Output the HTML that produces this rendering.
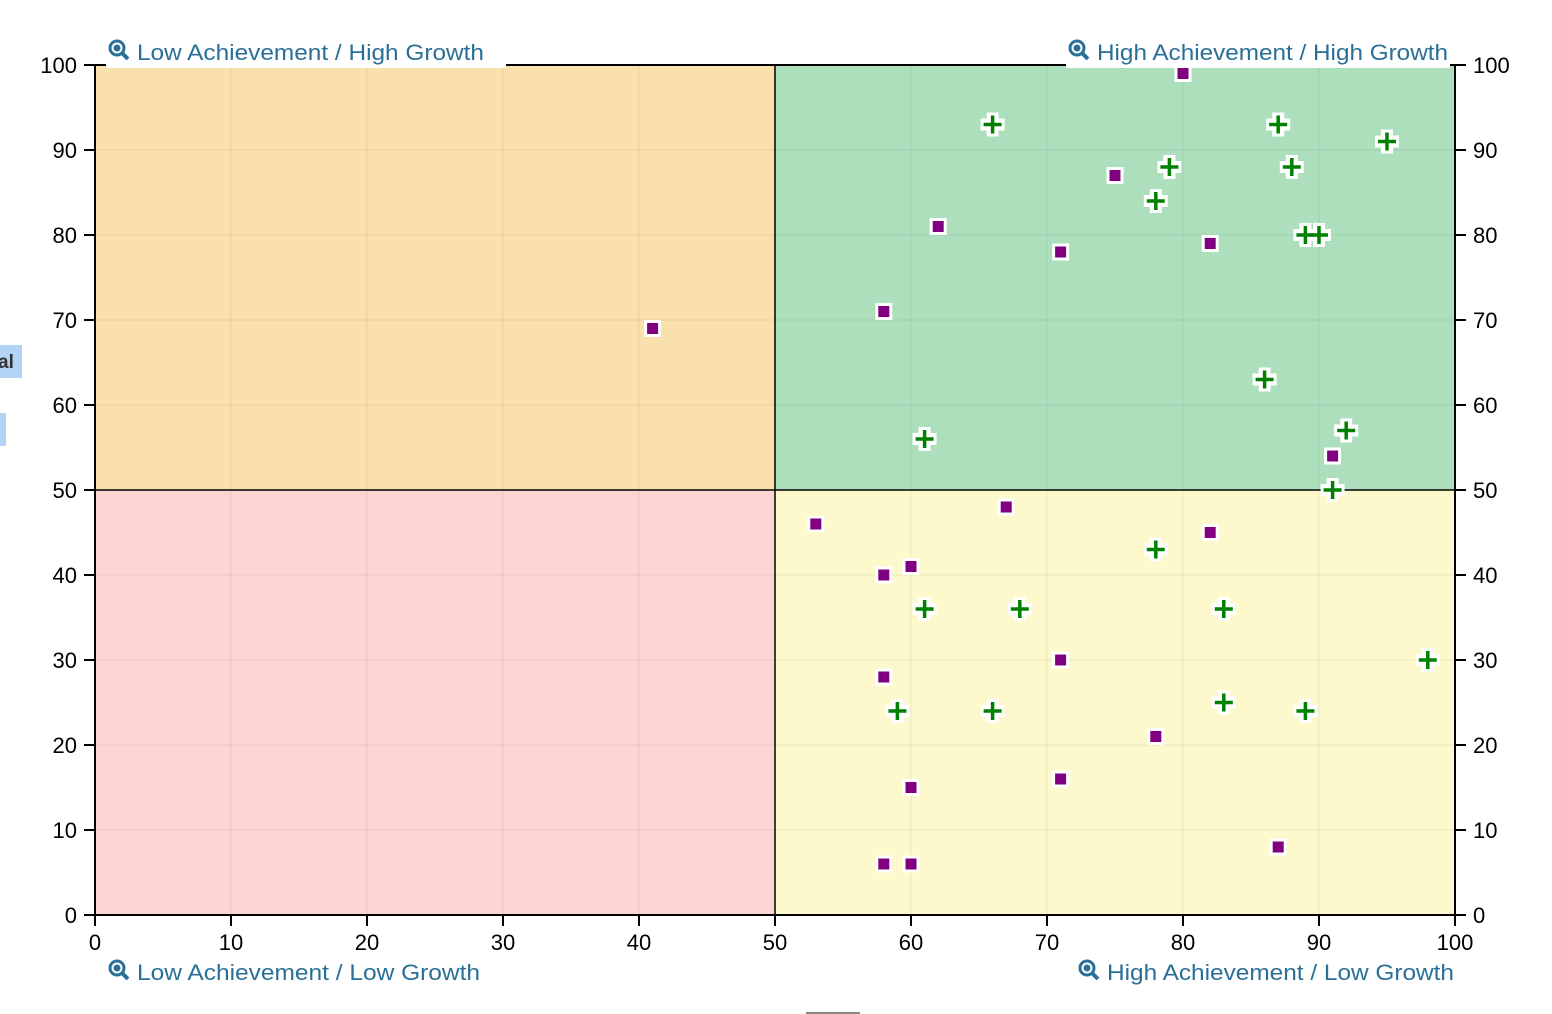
<!DOCTYPE html>
<html><head><meta charset="utf-8"><style>
html,body{margin:0;padding:0;background:#fff;width:1552px;height:1014px;overflow:hidden}
svg{display:block;font-family:"Liberation Sans",Arial,sans-serif}
</style></head><body>
<svg id="s" width="1552" height="1014" viewBox="0 0 1552 1014" xmlns="http://www.w3.org/2000/svg">
<rect x="95" y="65" width="680" height="425" fill="#fae0ac"/>
<rect x="775" y="65" width="680" height="425" fill="#addfbd"/>
<rect x="95" y="490" width="680" height="425" fill="#fdd5d5"/>
<rect x="775" y="490" width="680" height="425" fill="#fef9cc"/>
<g id="grid" stroke="#000" stroke-opacity="0.035" stroke-width="2"></g>
<line x1="775" y1="65" x2="775" y2="915" stroke="#000" stroke-width="1.5"/>
<line x1="95" y1="490" x2="1455" y2="490" stroke="#000" stroke-width="1.5"/>
<g stroke="#000" stroke-width="2" fill="none">
<line x1="95" y1="64" x2="95" y2="916"/>
<line x1="1455" y1="64" x2="1455" y2="916"/>
<line x1="84" y1="65" x2="1466" y2="65"/>
<line x1="84" y1="915" x2="1466" y2="915"/>
</g>
<g id="ticks" stroke="#000" stroke-width="2"></g>
<g font-size="22" fill="#000">
<text x="77" y="73" text-anchor="end">100</text><text x="77" y="158" text-anchor="end">90</text><text x="77" y="243" text-anchor="end">80</text><text x="77" y="328" text-anchor="end">70</text><text x="77" y="413" text-anchor="end">60</text><text x="77" y="498" text-anchor="end">50</text><text x="77" y="583" text-anchor="end">40</text><text x="77" y="668" text-anchor="end">30</text><text x="77" y="753" text-anchor="end">20</text><text x="77" y="838" text-anchor="end">10</text><text x="77" y="923" text-anchor="end">0</text>
<text x="1473" y="73">100</text><text x="1473" y="158">90</text><text x="1473" y="243">80</text><text x="1473" y="328">70</text><text x="1473" y="413">60</text><text x="1473" y="498">50</text><text x="1473" y="583">40</text><text x="1473" y="668">30</text><text x="1473" y="753">20</text><text x="1473" y="838">10</text><text x="1473" y="923">0</text>
<text x="95" y="950" text-anchor="middle">0</text><text x="231" y="950" text-anchor="middle">10</text><text x="367" y="950" text-anchor="middle">20</text><text x="503" y="950" text-anchor="middle">30</text><text x="639" y="950" text-anchor="middle">40</text><text x="775" y="950" text-anchor="middle">50</text><text x="911" y="950" text-anchor="middle">60</text><text x="1047" y="950" text-anchor="middle">70</text><text x="1183" y="950" text-anchor="middle">80</text><text x="1319" y="950" text-anchor="middle">90</text><text x="1455" y="950" text-anchor="middle">100</text>
</g>
<rect x="106" y="37" width="400" height="31" fill="#fff"/>
<rect x="1066" y="37" width="384" height="31" fill="#fff"/>
<g fill="#2a6f97" font-size="22">
<text x="137" y="60" textLength="347" lengthAdjust="spacingAndGlyphs">Low Achievement / High Growth</text>
<text x="1097" y="60" textLength="351" lengthAdjust="spacingAndGlyphs">High Achievement / High Growth</text>
<text x="137" y="980" textLength="343" lengthAdjust="spacingAndGlyphs">Low Achievement / Low Growth</text>
<text x="1107" y="980" textLength="347" lengthAdjust="spacingAndGlyphs">High Achievement / Low Growth</text>
</g>
<g id="icons" fill="none" stroke="#2a6f97"></g>
<rect x="0" y="345" width="22" height="33" fill="#b3d4f5"/>
<text x="-2" y="368" font-size="19" font-weight="bold" fill="#333">al</text>
<rect x="0" y="413" width="6" height="33" fill="#b3d4f5"/>
<line x1="806" y1="1013" x2="860" y2="1013" stroke="#888" stroke-width="2"/>
<g id="pts"></g>
</svg>
<script>
var NS="http://www.w3.org/2000/svg";
function el(t,a,p){var e=document.createElementNS(NS,t);for(var k in a)e.setAttribute(k,a[k]);document.getElementById(p).appendChild(e);return e;}
for(var i=1;i<10;i++){if(i==5)continue;var x=95+136*i,y=65+85*i;
el('line',{x1:x,y1:65,x2:x,y2:915},'grid');el('line',{x1:95,y1:y,x2:1455,y2:y},'grid');}
for(var i=0;i<=10;i++){var x=95+136*i,y=65+85*i;
el('line',{x1:x,y1:915,x2:x,y2:926},'ticks');el('line',{x1:84,y1:y,x2:95,y2:y},'ticks');el('line',{x1:1455,y1:y,x2:1466,y2:y},'ticks');}
[[117,48],[1077,48],[117,968],[1087,968]].forEach(function(p){
el('circle',{cx:p[0],cy:p[1],r:7,'stroke-width':3},'icons');
el('line',{x1:p[0]+5,y1:p[1]+5,x2:p[0]+11,y2:p[1]+11,'stroke-width':4},'icons');
el('circle',{cx:p[0],cy:p[1],r:3.5,fill:'#2a6f97',stroke:'none'},'icons');});
var sq=[[80,99],[75,87],[62,81],[71,78],[82,79],[58,71],[41,69],[91,54],[67,48],[53,46],[82,45],[58,40],[60,41],[71,30],[58,28],[78,21],[71,16],[60,15],[87,8],[58,6],[60,6]];
var cr=[[66,93],[87,93],[95,91],[79,88],[88,88],[78,84],[89,80],[90,80],[86,63],[61,56],[92,57],[91,50],[78,43],[61,36],[68,36],[83,36],[98,30],[59,24],[66,24],[83,25],[89,24]];
sq.forEach(function(p){var x=95+13.6*p[0],y=915-8.5*p[1];
el('rect',{x:x-7,y:y-7,width:14,height:14,fill:'#800080',stroke:'#fff','stroke-width':3},'pts');});
cr.forEach(function(p){var x=95+13.6*p[0],y=915-8.5*p[1];
el('rect',{x:x-12,y:y-6,width:24,height:12,fill:'#fff'},'pts');
el('rect',{x:x-6,y:y-12,width:12,height:24,fill:'#fff'},'pts');});
cr.forEach(function(p){var x=95+13.6*p[0],y=915-8.5*p[1];
var d='M'+(x-9)+' '+y+'H'+(x+9)+'M'+x+' '+(y-9)+'V'+(y+9);
el('path',{d:d,stroke:'#008000','stroke-width':3.5},'pts');});
</script>
</body></html>
